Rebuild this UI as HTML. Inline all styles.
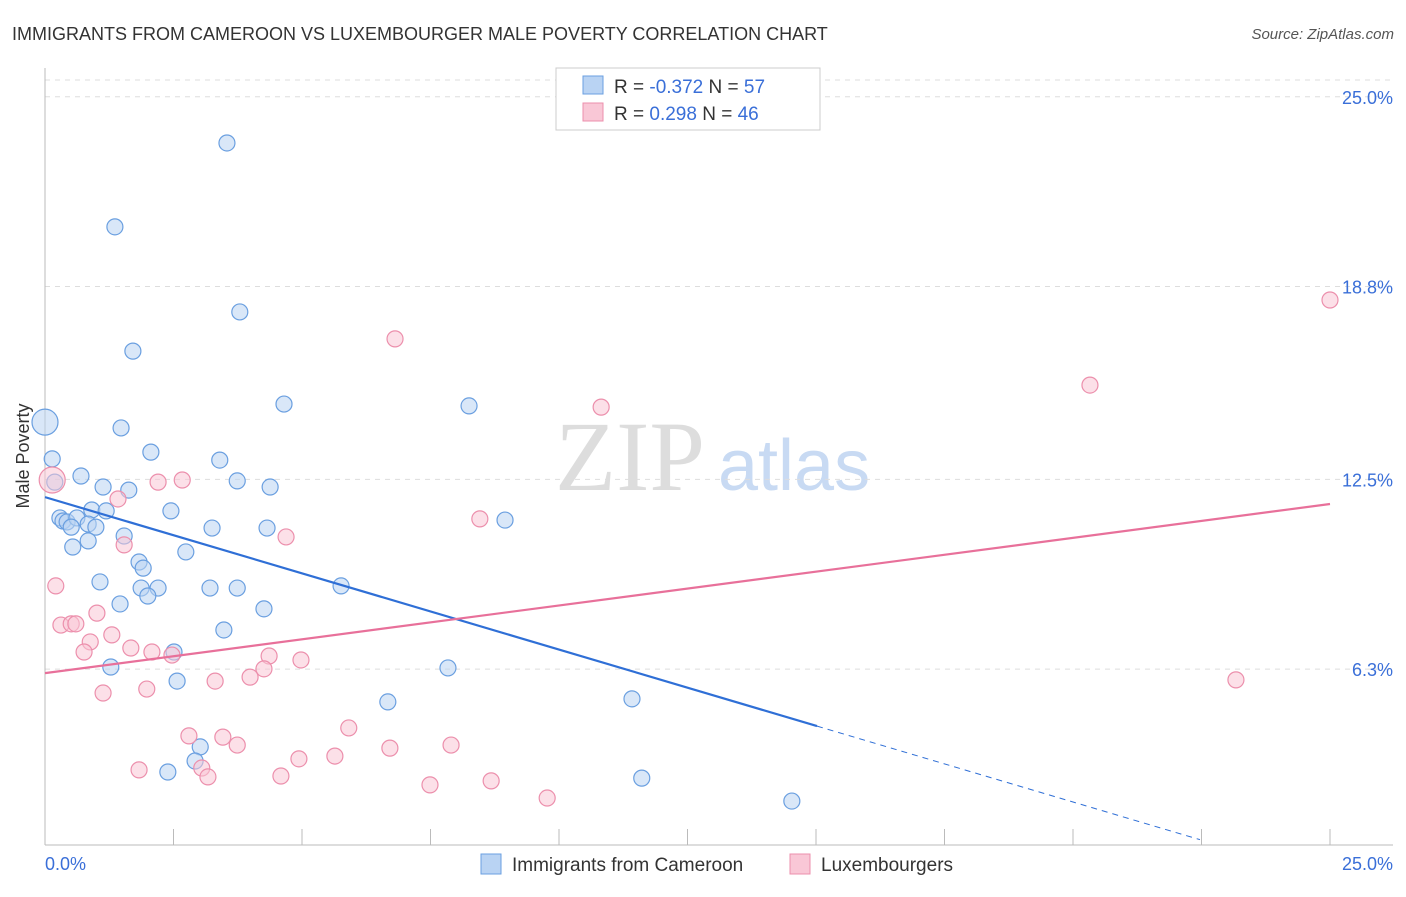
<!DOCTYPE html>
<html><head><meta charset="utf-8"><style>
body{margin:0;background:#fff;font-family:"Liberation Sans",sans-serif;}
</style></head><body>
<svg id="c" width="1406" height="892" xmlns="http://www.w3.org/2000/svg" font-family="Liberation Sans, sans-serif">
<text x="12" y="40" font-size="18" fill="#333">IMMIGRANTS FROM CAMEROON VS LUXEMBOURGER MALE POVERTY CORRELATION CHART</text>
<text x="1394" y="39" font-size="15" fill="#555" font-style="italic" text-anchor="end">Source: ZipAtlas.com</text>
<text x="29" y="456" font-size="18" fill="#333" text-anchor="middle" transform="rotate(-90 29 456)">Male Poverty</text>
<text x="555" y="490" font-size="100" fill="#ddd" font-family="Liberation Serif, serif">ZIP</text>
<text x="718" y="490" font-size="72" fill="#c8daf3">atlas</text>
<g id="grid"></g><g id="axes"></g><g id="pts"></g><g id="lines"></g>
<g>
<rect x="556" y="68" width="264" height="62" fill="#fff" stroke="#ccc"/>
<rect x="583" y="76" width="20" height="18" fill="#b9d3f3" stroke="#6a9fe0"/>
<rect x="583" y="103" width="20" height="18" fill="#f9c7d6" stroke="#ec8fac"/>
<text x="614" y="93" font-size="19" fill="#333">R = <tspan fill="#3a6fd8">-0.372</tspan>   N = <tspan fill="#3a6fd8">57</tspan></text>
<text x="614" y="120" font-size="19" fill="#333">R =  <tspan fill="#3a6fd8">0.298</tspan>   N = <tspan fill="#3a6fd8">46</tspan></text>
</g>
<g>
<rect x="481" y="854" width="20" height="20" fill="#b9d3f3" stroke="#6a9fe0"/>
<text x="512" y="871" font-size="19" fill="#333">Immigrants from Cameroon</text>
<rect x="790" y="854" width="20" height="20" fill="#f9c7d6" stroke="#ec8fac"/>
<text x="821" y="871" font-size="19" fill="#333">Luxembourgers</text>
</g>
</svg>
<script>
const blueX=[3.54,1.36,3.79,1.71,4.65,8.25,1.48,0,2.06,3.40,0.14,0.70,0.19,3.74,1.13,1.63,4.38,0.91,1.19,2.45,0.29,0.35,0.43,0.62,0.84,0.99,0.51,3.25,4.32,8.95,1.54,0.84,0.54,2.74,1.83,1.91,5.76,1.07,3.21,3.74,1.87,2.20,2.00,1.46,4.26,3.48,2.51,1.28,7.84,2.57,6.67,11.42,3.02,2.92,2.39,11.61,14.53];
const blueY=[23.49,20.75,17.97,16.69,14.96,14.90,14.18,14.37,13.39,13.13,13.17,12.61,12.41,12.45,12.25,12.15,12.25,11.50,11.47,11.47,11.24,11.14,11.11,11.24,11.04,10.94,10.94,10.91,10.91,11.17,10.65,10.49,10.29,10.13,9.80,9.60,9.02,9.15,8.95,8.95,8.95,8.95,8.69,8.43,8.27,7.58,6.86,6.37,6.34,5.91,5.23,5.33,3.76,3.30,2.94,2.74,1.99];
const pinkX=[25.0,6.81,20.33,10.82,0.14,1.42,2.20,2.67,8.46,4.69,1.54,0.21,1.01,0.31,0.51,0.60,1.30,0.88,1.67,0.76,2.08,2.47,4.98,4.36,4.26,3.99,3.31,23.17,1.98,1.13,5.91,2.80,3.46,3.74,6.71,7.90,5.64,4.94,1.83,3.05,3.17,4.59,8.68,7.49,9.77];
const pinkY=[18.36,17.09,15.58,14.86,12.48,11.86,12.41,12.48,11.21,10.62,10.36,9.02,8.13,7.74,7.78,7.78,7.42,7.19,6.99,6.86,6.86,6.76,6.60,6.73,6.31,6.04,5.91,5.95,5.65,5.52,4.38,4.12,4.08,3.82,3.72,3.82,3.46,3.37,3.01,3.07,2.78,2.81,2.65,2.52,2.09];
const yTicks=[6.3,12.5,18.8,25.0];
const blueTrend=[11.92,-0.498,15.02,22.47];
const pinkTrend=[6.17,0.221,25];
const X=v=>45+v*51.4, Y=v=>862-v*30.61;
const NS="http://www.w3.org/2000/svg";
function mk(p,t,a){const e=document.createElementNS(NS,t);for(const k in a)e.setAttribute(k,a[k]);document.getElementById(p).appendChild(e);return e;}
yTicks.forEach(t=>{
 const l=mk('grid','line',{x1:45,x2:1393,y1:Y(t),y2:Y(t),stroke:'#ddd','stroke-dasharray':'5,5'});
 
 
 const tx=mk('grid','text',{x:1393,y:Y(t)+7,'font-size':18,fill:'#3a6fd8','text-anchor':'end'});
 tx.textContent=t.toFixed(1)+'%';
 
 
});
mk('grid','line',{x1:45,x2:1393,y1:80,y2:80,stroke:'#ddd','stroke-dasharray':'5,5'});
mk('axes','line',{x1:45,x2:45,y1:68,y2:845,stroke:'#bbb'});
mk('axes','line',{x1:45,x2:1393,y1:845,y2:845,stroke:'#bbb'});
for(let i=1;i<=10;i++){const x=X(i*2.5);mk('axes','line',{x1:x,x2:x,y1:829,y2:845,stroke:'#bbb'});}
let t0=mk('axes','text',{x:45,y:870,'font-size':18,fill:'#3a6fd8'});t0.textContent='0.0%';


let t1=mk('axes','text',{x:1393,y:870,'font-size':18,fill:'#3a6fd8','text-anchor':'end'});t1.textContent='25.0%';


function pts(xs,ys,f,s,name){xs.forEach((x,i)=>{
 const big=(name==='blue'&&i===7)||(name==='pink'&&i===4);
 const c=mk('pts','circle',{cx:X(x),cy:Y(ys[i]),r:big?13:8,fill:f,'fill-opacity':0.55,stroke:s,'stroke-width':1.2});
 
 
});}
pts(blueX,blueY,'#b9d3f3','#6a9fe0','blue');
pts(pinkX,pinkY,'#f9c7d6','#ec8fac','pink');
const [bi,bs,be,bd]=blueTrend;
let bl=mk('lines','line',{x1:X(0),y1:Y(bi),x2:X(be),y2:Y(bi+bs*be),stroke:'#2f6fd6','stroke-width':2.2});


let bdl=mk('lines','line',{x1:X(be),y1:Y(bi+bs*be),x2:X(bd),y2:Y(bi+bs*bd),stroke:'#2f6fd6','stroke-width':1,'stroke-dasharray':'6,5'});


const [pi,ps,pe]=pinkTrend;
let pl=mk('lines','line',{x1:X(0),y1:Y(pi),x2:X(pe),y2:Y(pi+ps*pe),stroke:'#e8709a','stroke-width':2.2});


</script>
</body></html>
